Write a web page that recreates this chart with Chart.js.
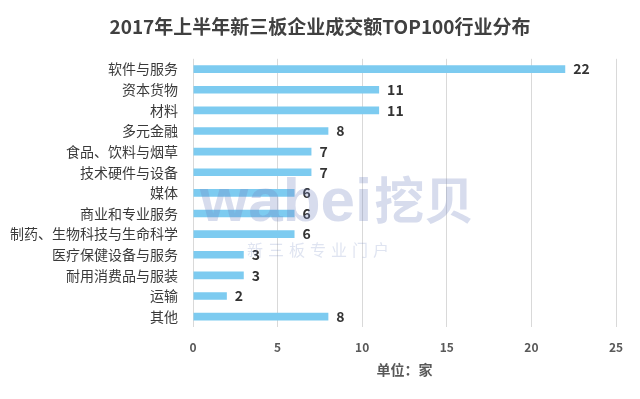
<!DOCTYPE html>
<html>
<head>
<meta charset="utf-8">
<script src="https://cdn.jsdelivr.net/npm/chart.js"></script>
<style>
  html, body { margin: 0; padding: 0; background: #fff; }
  #wrap { width: 640px; height: 399px; position: relative; }
</style>
</head>
<body>
<div id="wrap"><canvas id="bar-chart"></canvas></div>
<script>
const titleText = "2017年上半年新三板企业成交额TOP100行业分布";
const industries = [
  "软件与服务", "资本货物", "材料", "多元金融", "食品、饮料与烟草",
  "技术硬件与设备", "媒体", "商业和专业服务", "制药、生物科技与生命科学",
  "医疗保健设备与服务", "耐用消费品与服装", "运输", "其他"
];
const companyCounts = [22, 11, 11, 8, 7, 7, 6, 6, 6, 3, 3, 2, 8];
const xTicks = [0, 5, 10, 15, 20, 25];
const unitLabel = "单位：家";

const cjk = "'Noto Sans CJK SC', 'Noto Sans', sans-serif";

// value at the end of each bar
const valueLabels = {
  id: "valueLabels",
  afterDatasetsDraw(chart) {
    const ctx = chart.ctx;
    const meta = chart.getDatasetMeta(0);
    ctx.save();
    ctx.font = "bold 14px " + cjk;
    ctx.fillStyle = "#333333";
    ctx.textAlign = "left";
    ctx.textBaseline = "middle";
    meta.data.forEach((bar, i) => {
      ctx.fillText(String(companyCounts[i]), bar.x + 8, bar.y);
    });
    ctx.restore();
  },
};

// faint site watermark
const watermark = {
  id: "watermark",
  afterDatasetsDraw(chart) {
    const ctx = chart.ctx;
    ctx.save();
    ctx.fillStyle = "rgba(110, 130, 190, 0.28)";
    ctx.textBaseline = "alphabetic";
    ctx.textAlign = "left";
    ctx.font = "bold 62px 'Liberation Sans', Arial, sans-serif";
    ctx.fillText("wabei", 200, 221);
    const w = ctx.measureText("wabei").width;
    ctx.font = "bold 50px " + cjk;
    ctx.fillText("挖贝", 200 + w + 2, 219);
    ctx.font = "16px " + cjk;
    ctx.fillStyle = "rgba(110, 130, 190, 0.22)";
    const small = "新三板专业门户".split("");
    small.forEach((ch, i) => ctx.fillText(ch, 247 + i * 21, 256));
    ctx.restore();
  },
};

const config = {
  type: "bar",
  data: {
    labels: industries,
    datasets: [
      {
        data: companyCounts,
        backgroundColor: "#7dcbf0",
        borderWidth: 0,
        barPercentage: 0.37,
        categoryPercentage: 1,
      },
    ],
  },
  options: {
    indexAxis: "y",
    responsive: false,
    animation: false,
    layout: { padding: 0 },
    plugins: {
      legend: { display: false },
      tooltip: { enabled: false },
      title: {
        display: true,
        text: titleText,
        color: "#404040",
        font: { family: cjk, size: 19, weight: "bold", lineHeight: 1.2 },
        padding: { top: 15, bottom: 21 },
      },
    },
    scales: {
      x: {
        min: 0,
        max: 25,
        afterBuildTicks(scale) {
          scale.ticks = xTicks.map((v) => ({ value: v }));
        },
        afterFit(scale) {
          scale.height = 72;
        },
        border: { display: false },
        grid: { color: "#d9d9d9", lineWidth: 1, drawTicks: false },
        ticks: {
          padding: 13,
          color: "#595959",
          font: { family: cjk, size: 12, weight: "bold" },
        },
        title: {
          display: true,
          text: unitLabel,
          color: "#595959",
          font: { family: cjk, size: 14, weight: "bold", lineHeight: 1.2 },
          padding: { top: 0, bottom: 21 },
        },
      },
      y: {
        afterFit(scale) {
          scale.width = 193;
        },
        border: { display: false },
        grid: { display: false, drawTicks: false },
        ticks: {
          padding: 15,
          color: "#3a3a3a",
          font: { family: cjk, size: 14 },
          autoSkip: false,
        },
      },
      // empty right-hand margin so the title stays centred on the canvas
      yRight: {
        type: "category",
        position: "right",
        afterFit(scale) {
          scale.width = 24;
        },
        border: { display: false },
        grid: { display: false, drawTicks: false },
        ticks: { display: false },
      },
    },
  },
  plugins: [valueLabels, watermark],
};

const canvas = document.getElementById("bar-chart");
canvas.width = 640;
canvas.height = 399;
new Chart(canvas.getContext("2d"), config);
</script>
</body>
</html>
